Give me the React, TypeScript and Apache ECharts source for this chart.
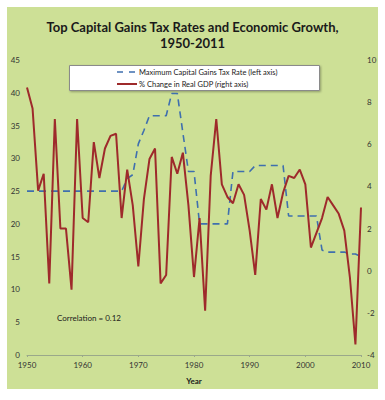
import React, { useEffect, useRef } from "react";
import * as echarts from "echarts";

const years: number[] = [];
for (let y = 1950; y <= 2010; y++) years.push(y);

const taxRate = [
  25, 25, 25, 25, 25, 25, 25, 25, 25, 25,
  25, 25, 25, 25, 25, 25, 25, 25, 26.9, 27.5,
  32.2, 34.25, 36.5, 36.5, 36.5, 36.5, 39.9, 39.9, 33.9, 28,
  28, 20, 20, 20, 20, 20, 20, 28, 28, 28,
  28, 28.9, 28.9, 28.9, 28.9, 28.9, 28.9, 21.2, 21.2, 21.2,
  21.2, 21.2, 21.2, 16.0, 15.7, 15.7, 15.7, 15.7, 15.4, 15.4,
  15.0,
];

const gdpChange = [
  8.7, 7.7, 3.8, 4.6, -0.6, 7.2, 2.0, 2.0, -0.9, 7.2,
  2.5, 2.3, 6.1, 4.4, 5.8, 6.4, 6.5, 2.5, 4.8, 3.1,
  0.2, 3.4, 5.3, 5.8, -0.6, -0.2, 5.4, 4.6, 5.6, 3.1,
  -0.3, 2.5, -1.9, 4.5, 7.2, 4.1, 3.5, 3.2, 4.1, 3.6,
  1.9, -0.2, 3.4, 2.9, 4.1, 2.5, 3.7, 4.5, 4.4, 4.8,
  4.1, 1.1, 1.8, 2.5, 3.5, 3.1, 2.7, 1.9, -0.3, -3.5,
  3.0,
];

const seriesNames = [
  "Maximum Capital Gains Tax Rate (left axis)",
  "% Change in Real GDP (right axis)",
];

const leftTicks = { min: 0, max: 45, interval: 5 };
const rightTicks = { min: -4, max: 10, interval: 2 };
const xTicks = { min: 1950, max: 2010, interval: 10 };

const FONT = "Lato, 'Liberation Sans', sans-serif";
const TAX_COLOR = "#3f6fae";
const GDP_COLOR = "#9e2a2b";

export default function App() {
  const ref = useRef<HTMLDivElement>(null);
  useEffect(() => {
    if (!ref.current) return;
    const chart = echarts.init(ref.current, null, { renderer: "svg" });
    const taxData = years.map((y, i) => [y, taxRate[i]]);
    const gdpData = years.map((y, i) => [y, gdpChange[i]]);
    chart.setOption({
      animation: false,
      backgroundColor: "#ffffff",
      textStyle: { fontFamily: FONT },
      title: {
        text: "Top Capital Gains Tax Rates and Economic Growth,\n1950-2011",
        left: "center",
        top: 14,
        textStyle: {
          fontFamily: FONT,
          fontSize: 13,
          fontWeight: "bold",
          color: "#1a1a1a",
          lineHeight: 16,
          align: "center",
        },
      },
      graphic: [
        {
          type: "rect",
          z: -10,
          silent: true,
          shape: { x: 7, y: 7, width: 371, height: 382 },
          style: { fill: "#cde096" },
        },
        {
          type: "rect",
          z: 1,
          silent: true,
          shape: { x: 69.5, y: 65.5, width: 250, height: 25 },
          style: {
            fill: "#ffffff",
            stroke: "#8a8a8a",
            lineWidth: 1,
            shadowBlur: 2,
            shadowColor: "rgba(0,0,0,0.3)",
            shadowOffsetX: 1,
            shadowOffsetY: 1,
          },
        },
        {
          type: "line",
          z: 2,
          silent: true,
          shape: { x1: 117, y1: 72, x2: 136, y2: 72 },
          style: { stroke: TAX_COLOR, lineWidth: 1.6, lineDash: [6, 6] },
        },
        {
          type: "line",
          z: 2,
          silent: true,
          shape: { x1: 117, y1: 84, x2: 137, y2: 84 },
          style: { stroke: GDP_COLOR, lineWidth: 2 },
        },
        {
          type: "text",
          z: 2,
          silent: true,
          x: 139,
          y: 72,
          style: {
            text: seriesNames[0],
            fontSize: 7.5,
            fontFamily: FONT,
            fill: "#1a1a1a",
            verticalAlign: "middle",
          },
        },
        {
          type: "text",
          z: 2,
          silent: true,
          x: 139,
          y: 84,
          style: {
            text: seriesNames[1],
            fontSize: 7.5,
            fontFamily: FONT,
            fill: "#1a1a1a",
            verticalAlign: "middle",
          },
        },
        {
          type: "text",
          z: 5,
          x: 57,
          y: 318,
          style: {
            text: "Correlation = 0.12",
            fontSize: 8,
            fontFamily: FONT,
            fill: "#1a1a1a",
            verticalAlign: "middle",
          },
        },
      ],
      grid: { left: 27, right: 24, top: 60, bottom: 45, containLabel: false },
      xAxis: {
        type: "value",
        min: xTicks.min,
        max: xTicks.max,
        interval: xTicks.interval,
        name: "Year",
        nameLocation: "middle",
        nameGap: 22,
        nameTextStyle: { fontSize: 8, fontWeight: "bold", color: "#1a1a1a", fontFamily: FONT },
        axisLine: { show: true, lineStyle: { color: "#9aa88a", width: 1 } },
        axisTick: { show: true, length: 2, lineStyle: { color: "#9aa88a" } },
        axisLabel: { fontSize: 8, color: "#333333", margin: 6, formatter: (v: number) => String(v) },
        splitLine: { show: false },
      },
      yAxis: [
        {
          type: "value",
          min: leftTicks.min,
          max: leftTicks.max,
          interval: leftTicks.interval,
          position: "left",
          axisLine: { show: false },
          axisTick: { show: false },
          splitLine: { show: false },
          axisLabel: { fontSize: 8, color: "#333333", margin: 7 },
        },
        {
          type: "value",
          min: rightTicks.min,
          max: rightTicks.max,
          interval: rightTicks.interval,
          position: "right",
          axisLine: { show: false },
          axisTick: { show: false },
          splitLine: { show: false },
          axisLabel: { fontSize: 8, color: "#333333", margin: 6 },
        },
      ],
      series: [
        {
          name: seriesNames[0],
          type: "line",
          yAxisIndex: 0,
          data: taxData,
          showSymbol: false,
          symbol: "none",
          lineStyle: { color: TAX_COLOR, width: 1.6, type: [7, 5] },
          itemStyle: { color: TAX_COLOR },
          z: 3,
        },
        {
          name: seriesNames[1],
          type: "line",
          yAxisIndex: 1,
          data: gdpData,
          showSymbol: false,
          symbol: "none",
          lineStyle: { color: GDP_COLOR, width: 2 },
          itemStyle: { color: GDP_COLOR },
          z: 4,
        },
      ],
    });
    return () => chart.dispose();
  }, []);
  return (
    <div
      ref={ref}
      style={{ position: "fixed", left: 0, top: 0, width: 385, height: 400 }}
    />
  );
}
